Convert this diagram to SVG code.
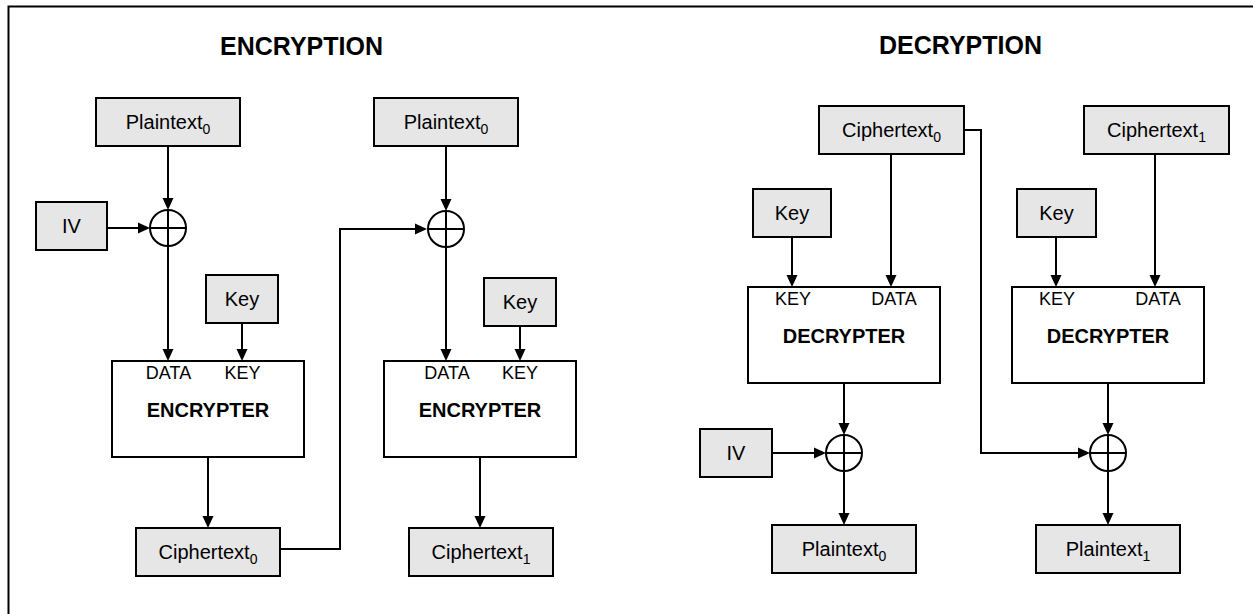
<svg xmlns="http://www.w3.org/2000/svg" width="1253" height="614" viewBox="0 0 1253 614">
<style>
  .box { fill: #e6e6e6; stroke: #000; stroke-width: 2; }
  .blk { fill: #fff; stroke: #000; stroke-width: 2; }
  .t { font-family: "Liberation Sans", Arial, sans-serif; font-size: 20px; fill: #000; text-anchor: middle; }
  .sub { font-size: 14px; }
  .port { font-family: "Liberation Sans", Arial, sans-serif; font-size: 18px; fill: #000; text-anchor: middle; }
  .bt { font-family: "Liberation Sans", Arial, sans-serif; font-size: 20px; font-weight: bold; fill: #000; text-anchor: middle; }
  .title { font-family: "Liberation Sans", Arial, sans-serif; font-size: 25px; font-weight: bold; fill: #000; }
  .xor { fill: #fff; stroke: #000; stroke-width: 2; }
  .xl { stroke: #000; stroke-width: 2; }
  .c { fill: none; stroke: #000; stroke-width: 2; marker-end: url(#ah); }
</style>
<defs>
  <marker id="ah" markerUnits="userSpaceOnUse" viewBox="0 0 12 12" refX="6" refY="6" markerWidth="12" markerHeight="12" orient="auto">
    <path d="M0,0.5 L12,6 L0,11.5 z" fill="#000"/>
  </marker>
</defs>
<rect x="8.5" y="6.5" width="1300" height="700" fill="none" stroke="#000" stroke-width="2"/>
<text class="title" x="220" y="55">ENCRYPTION</text>
<text class="title" x="879" y="54">DECRYPTION</text>

<g id="connectors">
  <path class="c" d="M168,146 V204"/>
  <path class="c" d="M107,228 H144"/>
  <path class="c" d="M168,246 V355"/>
  <path class="c" d="M242,323 V355"/>
  <path class="c" d="M208,457 V522"/>
  <path class="c" d="M280,549 H340 V229 H421"/>
  <path class="c" d="M446,146 V205"/>
  <path class="c" d="M446,247 V355"/>
  <path class="c" d="M520,326 V355"/>
  <path class="c" d="M480,457 V522"/>
  <path class="c" d="M891,154 V281"/>
  <path class="c" d="M792,237 V281"/>
  <path class="c" d="M844,383 V429"/>
  <path class="c" d="M772,453 H820"/>
  <path class="c" d="M844,471 V519"/>
  <path class="c" d="M1155,154 V281"/>
  <path class="c" d="M1056,237 V281"/>
  <path class="c" d="M1108,383 V429"/>
  <path class="c" d="M964,130 H981 V453 H1084"/>
  <path class="c" d="M1108,471 V519"/>
</g>

<g id="enc-plaintext0">
  <rect class="box" x="96" y="98" width="144" height="48"/>
  <text class="t" x="168" y="128.5">Plaintext<tspan class="sub" dy="5">0</tspan></text>
</g>
<g id="enc-iv">
  <rect class="box" x="36" y="202" width="71" height="48"/>
  <text class="t" x="71.5" y="233">IV</text>
</g>
<g id="enc-xor0">
  <circle class="xor" cx="168" cy="228" r="18"/>
  <path class="xl" d="M150,228 H186 M168,210 V246"/>
</g>
<g id="enc-key0">
  <rect class="box" x="206" y="275" width="72" height="48"/>
  <text class="t" x="242" y="305.5">Key</text>
</g>
<g id="encrypter0">
  <rect class="blk" x="112" y="361" width="192" height="96"/>
  <text class="port" x="168.5" y="379">DATA</text>
  <text class="port" x="242.5" y="379">KEY</text>
  <text class="bt" x="208" y="417">ENCRYPTER</text>
</g>
<g id="enc-ciphertext0">
  <rect class="box" x="136" y="528" width="144" height="48"/>
  <text class="t" x="208" y="558.5">Ciphertext<tspan class="sub" dy="5">0</tspan></text>
</g>

<g id="enc-plaintext1">
  <rect class="box" x="374" y="98" width="144" height="48"/>
  <text class="t" x="446" y="128.5">Plaintext<tspan class="sub" dy="5">0</tspan></text>
</g>
<g id="enc-xor1">
  <circle class="xor" cx="446" cy="229" r="18"/>
  <path class="xl" d="M428,229 H464 M446,211 V247"/>
</g>
<g id="enc-key1">
  <rect class="box" x="484" y="278" width="72" height="48"/>
  <text class="t" x="520" y="308.5">Key</text>
</g>
<g id="encrypter1">
  <rect class="blk" x="384" y="361" width="192" height="96"/>
  <text class="port" x="447" y="379">DATA</text>
  <text class="port" x="520" y="379">KEY</text>
  <text class="bt" x="480" y="417">ENCRYPTER</text>
</g>
<g id="enc-ciphertext1">
  <rect class="box" x="409" y="528" width="144" height="48"/>
  <text class="t" x="481" y="558.5">Ciphertext<tspan class="sub" dy="5">1</tspan></text>
</g>

<g id="dec-ciphertext0">
  <rect class="box" x="819" y="106" width="145" height="48"/>
  <text class="t" x="891.5" y="136.5">Ciphertext<tspan class="sub" dy="5">0</tspan></text>
</g>
<g id="dec-key0">
  <rect class="box" x="753" y="189" width="78" height="48"/>
  <text class="t" x="792" y="219.5">Key</text>
</g>
<g id="decrypter0">
  <rect class="blk" x="748" y="287" width="192" height="96"/>
  <text class="port" x="793" y="305">KEY</text>
  <text class="port" x="894" y="305">DATA</text>
  <text class="bt" x="844" y="343">DECRYPTER</text>
</g>
<g id="dec-iv">
  <rect class="box" x="700" y="429" width="72" height="48"/>
  <text class="t" x="736" y="459.5">IV</text>
</g>
<g id="dec-xor0">
  <circle class="xor" cx="844" cy="453" r="18"/>
  <path class="xl" d="M826,453 H862 M844,435 V471"/>
</g>
<g id="dec-plaintext0">
  <rect class="box" x="772" y="525" width="144" height="48"/>
  <text class="t" x="844" y="555.5">Plaintext<tspan class="sub" dy="5">0</tspan></text>
</g>

<g id="dec-ciphertext1">
  <rect class="box" x="1084" y="106" width="145" height="48"/>
  <text class="t" x="1156.5" y="136.5">Ciphertext<tspan class="sub" dy="5">1</tspan></text>
</g>
<g id="dec-key1">
  <rect class="box" x="1017" y="189" width="79" height="48"/>
  <text class="t" x="1056.5" y="219.5">Key</text>
</g>
<g id="decrypter1">
  <rect class="blk" x="1012" y="287" width="192" height="96"/>
  <text class="port" x="1057" y="305">KEY</text>
  <text class="port" x="1158" y="305">DATA</text>
  <text class="bt" x="1108" y="343">DECRYPTER</text>
</g>
<g id="dec-xor1">
  <circle class="xor" cx="1108" cy="453" r="18"/>
  <path class="xl" d="M1090,453 H1126 M1108,435 V471"/>
</g>
<g id="dec-plaintext1">
  <rect class="box" x="1036" y="525" width="144" height="48"/>
  <text class="t" x="1108" y="555.5">Plaintext<tspan class="sub" dy="5">1</tspan></text>
</g>
</svg>
